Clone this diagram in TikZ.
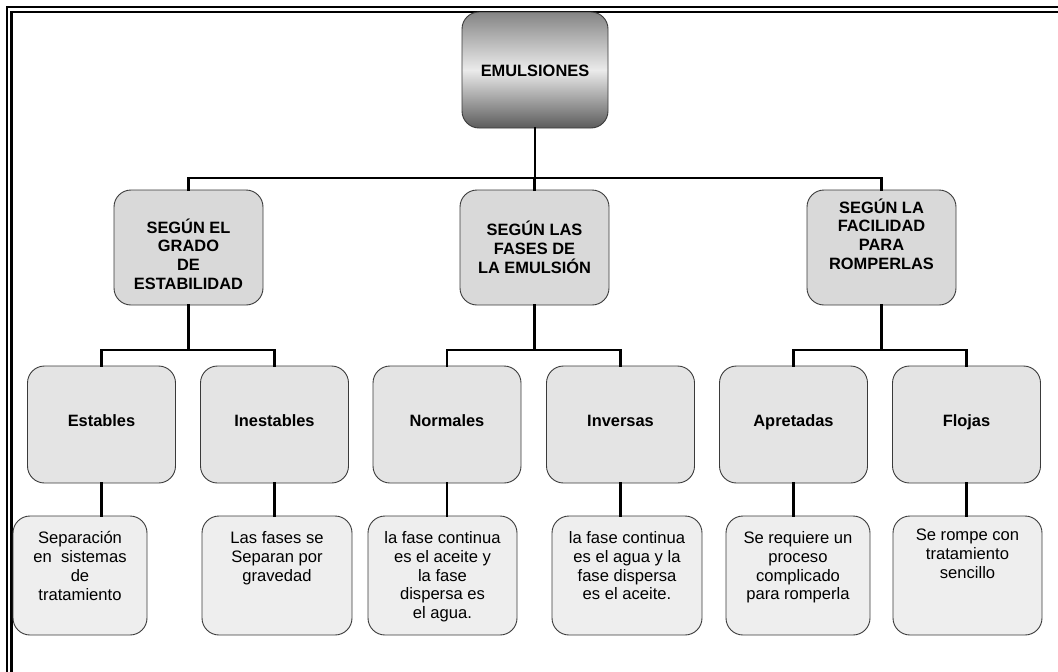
\documentclass[tikz,border=0pt]{standalone}
\usepackage{fontspec}
\setmainfont{Liberation Sans}
\definecolor{edge}{HTML}{3A3A3A}
\definecolor{catfill}{HTML}{D9D9D9}
\definecolor{typefill}{HTML}{E4E4E4}
\definecolor{notefill}{HTML}{EEEEEE}
\begin{document}
\begin{tikzpicture}[x=1pt,y=-1pt,
  box/.style={draw=edge, line width=0.9pt, rounded corners=17pt, inner sep=0pt},
  rootbox/.style={box, minimum width=146pt, minimum height=116pt,
    top color=black!48, bottom color=black!64, middle color=black!8},
  catbox/.style={box, fill=catfill, minimum width=149pt, minimum height=115pt},
  typebox/.style={box, fill=typefill, minimum width=148pt, minimum height=117pt},
  notebox/.style={box, fill=notefill, minimum height=119pt},
  headtxt/.style={inner sep=0pt, align=center, font=\bfseries\fontsize{16.4}{18.7}\selectfont},
  typetxt/.style={headtxt, anchor=base},
  notetxt/.style={inner sep=0pt, align=center, anchor=north, font=\fontsize{16.6}{18.7}\selectfont},
  link/.style={line width=2.8pt, line cap=rect},
  rule/.style={line width=2.8pt}]

\useasboundingbox (0,0) rectangle (1058,672);

% double frame along the top and left sides
\draw[rule] (7,672) -- (7,7) -- (1058,7);
\draw[rule] (11.5,672) -- (11.5,12) -- (1058,12);

% root
\node[rootbox] (root) at (535,70) {};
\node[headtxt] (rootT) at (535,71) {EMULSIONES};

% classification criteria
\node[catbox] (grado) at (188.5,247.5) {};
\node[catbox] (fases) at (534.5,247.5) {};
\node[catbox] (facil) at (881.5,247.5) {};
\node[headtxt] (gradoT) at (188.5,254) {SEGÚN EL\\GRADO\\DE\\ESTABILIDAD};
\node[headtxt] (fasesT) at (534.5,247.5) {SEGÚN LAS\\FASES DE\\LA EMULSIÓN};
\node[headtxt] (facilT) at (881.5,234) {SEGÚN LA\\FACILIDAD\\PARA\\ROMPERLAS};

% emulsion types
\node[typebox] (est) at (101.5,424.5) {};
\node[typebox] (ine) at (274.5,424.5) {};
\node[typebox] (nor) at (447,424.5) {};
\node[typebox] (inv) at (620.5,424.5) {};
\node[typebox] (apr) at (793.5,424.5) {};
\node[typebox] (flo) at (966.5,424.5) {};
\node[typetxt] at (101.5,426) {Estables};
\node[typetxt] at (274.5,426) {Inestables};
\node[typetxt] at (447,426) {Normales};
\node[typetxt] at (620.5,426) {Inversas};
\node[typetxt] at (793.5,426) {Apretadas};
\node[typetxt] at (966.5,426) {Flojas};

% descriptions
\node[notebox, minimum width=134pt] (estD) at (80,575.5) {};
\node[notebox, minimum width=150pt] (ineD) at (277,575.5) {};
\node[notebox, minimum width=149pt] (norD) at (442.5,575.5) {};
\node[notebox, minimum width=150pt] (invD) at (627,575.5) {};
\node[notebox, minimum width=144pt] (aprD) at (798,575.5) {};
\node[notebox, minimum width=149pt] (floD) at (967.5,575.5) {};
\node[notetxt] at (80,531.5) {Separación\\en\ \ sistemas\\de\\tratamiento};
\node[notetxt] at (277,531.5) {Las fases se\\Separan por\\gravedad};
\node[notetxt] at (442.5,531.5) {la fase continua\\es el aceite y\\la fase\\dispersa es\\el agua.};
\node[notetxt] at (627,531.5) {la fase continua\\es el agua y la\\fase dispersa\\es el aceite.};
\node[notetxt] at (798,531.5) {Se requiere un\\proceso\\complicado\\para romperla};
\node[notetxt] at (967.5,529) {Se rompe con\\tratamiento\\sencillo};

% junction points of the tree
\coordinate (j0) at (535,178);
\coordinate (j1) at (188.5,350);
\coordinate (j2) at (534.5,350);
\coordinate (j3) at (881.5,350);

% root to criteria
\draw[link] (root.south) -- (j0);
\draw[link] (grado.north) -- (grado.north |- j0) -- (facil.north |- j0) -- (facil.north);
\draw[link] (fases.north) -- (fases.north |- j0);

% criteria to types
\foreach \c/\j/\a/\b in {grado/j1/est/ine, fases/j2/nor/inv, facil/j3/apr/flo}{
  \draw[link] (\c.south) -- (\j);
  \draw[link] (\a.north) -- (\a.north |- \j) -- (\b.north |- \j) -- (\b.north);
}

% types to descriptions
\foreach \t in {est, ine, nor, inv, apr, flo}{
  \draw[link] (\t.south) -- (\t.south |- \t D.north);
}
\end{tikzpicture}
\end{document}
